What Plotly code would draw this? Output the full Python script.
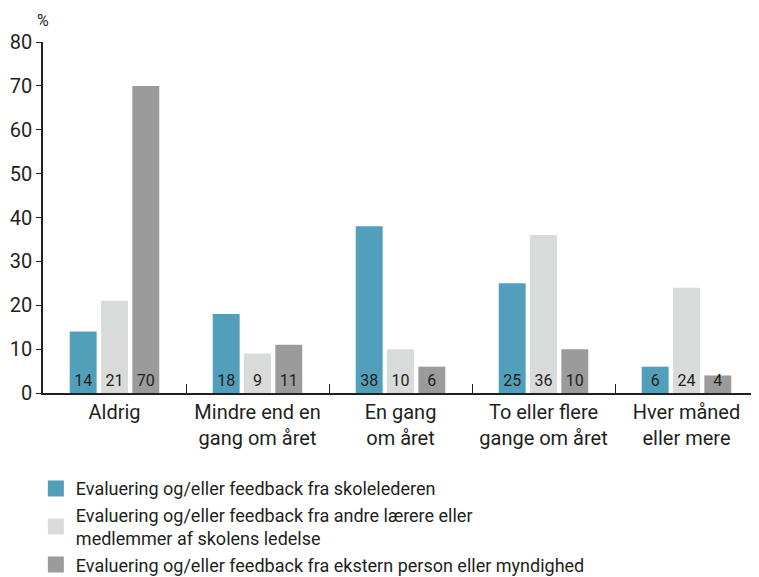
import plotly.graph_objects as go

kategorier = ["Aldrig", "Mindre end en<br>gang om året", "En gang<br>om året",
              "To eller flere<br>gange om året", "Hver måned<br>eller mere"]

skoleleder = [14, 18, 38, 25, 6]
andre_laerere = [21, 9, 10, 36, 24]
ekstern = [70, 11, 6, 10, 4]

serier = [
    ("Evaluering og/eller feedback fra skolelederen", skoleleder, "#529fbb"),
    ("Evaluering og/eller feedback fra andre lærere eller<br>medlemmer af skolens ledelse",
     andre_laerere, "#d9dada"),
    ("Evaluering og/eller feedback fra ekstern person eller myndighed", ekstern, "#9b9b9b"),
]

FONT = "Roboto, 'DejaVu Sans', sans-serif"
TXT = "#231f20"

fig = go.Figure()
for navn, vals, farve in serier:
    fig.add_trace(go.Bar(
        x=kategorier, y=vals, name=navn, marker_color=farve, marker_line_width=0,
        text=[str(v) for v in vals], textposition="inside", insidetextanchor="start",
        constraintext="none", textangle=0,
        textfont=dict(family=FONT, size=16, color=TXT),
        showlegend=False,
    ))
    # legend entry with a bigger square
    fig.add_trace(go.Scatter(
        x=[None], y=[None], mode="markers", name=navn,
        marker=dict(symbol="square", size=16, color=farve),
    ))

# page has an 8px body margin, so the figure is 8px smaller than the window
fig.update_layout(
    width=751, height=569,
    margin=dict(l=35, r=1, t=34, b=184, autoexpand=False),
    paper_bgcolor="white", plot_bgcolor="white",
    barmode="group", bargap=0.343, bargroupgap=0.14,
    font=dict(family=FONT, color=TXT, size=20),
    legend=dict(orientation="v", x=-0.01, y=-0.22, xanchor="left", yanchor="top",
                font=dict(family=FONT, size=18, color=TXT),
                itemsizing="trace", tracegroupgap=0, bgcolor="rgba(0,0,0,0)"),
    xaxis=dict(showgrid=False, showline=True, linecolor="#231f20", linewidth=1.5,
               ticks="inside", tickson="boundaries", ticklen=9, tickcolor="#231f20",
               tickfont=dict(family=FONT, size=20, color=TXT), automargin=False),
    yaxis=dict(range=[0, 80], dtick=10, showgrid=False, zeroline=False, showline=True,
               linecolor="#231f20", linewidth=1.5, ticks="outside", ticklen=5,
               tickcolor="#231f20", tickfont=dict(family=FONT, size=20, color=TXT),
               automargin=False),
    annotations=[dict(text="%", xref="paper", yref="paper", x=0, y=1, yshift=33,
                      xanchor="center", yanchor="top", showarrow=False,
                      font=dict(family=FONT, size=16, color=TXT))],
)

fig.write_html("out.html")
